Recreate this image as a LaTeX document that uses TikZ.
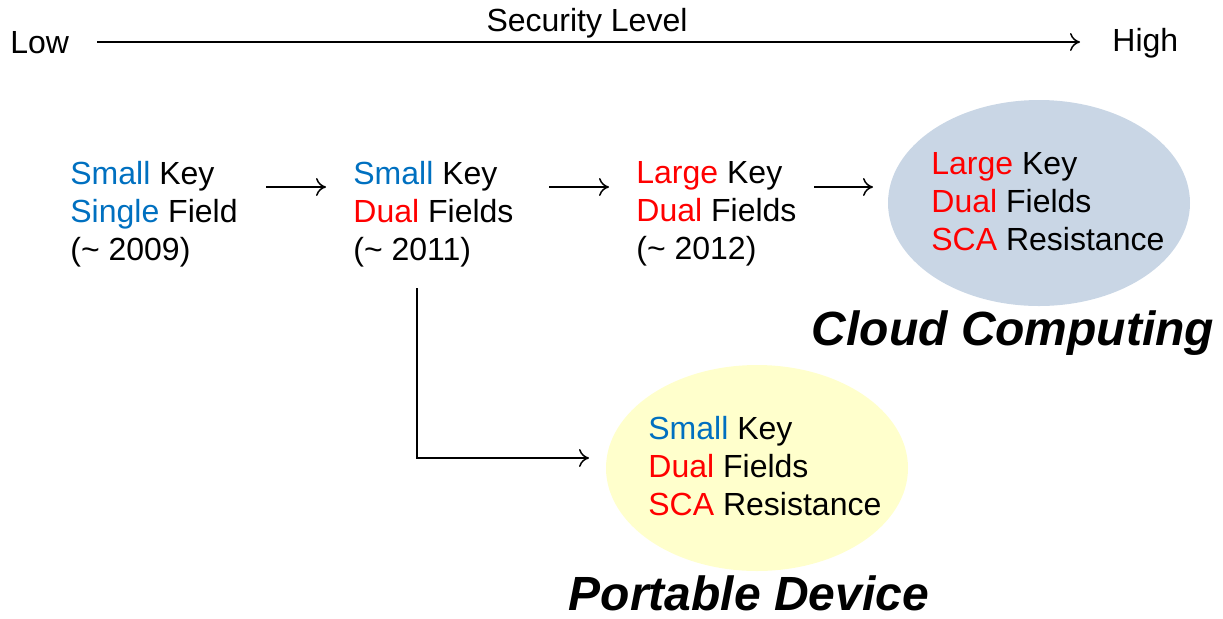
\documentclass[tikz,border=0pt]{standalone}
\usepackage{fontspec}
\setmainfont{Liberation Sans}
\usetikzlibrary{shapes.geometric,arrows.meta}
\definecolor{kblue}{HTML}{0070C0}
\definecolor{kred}{HTML}{FF0000}
\definecolor{cloudfill}{HTML}{C9D6E5}
\definecolor{devfill}{HTML}{FFFFCC}
\tikzset{
  txt/.style={font=\fontsize{16}{19}\selectfont, align=left, inner sep=0pt, anchor=west},
  arr/.style={-{To[length=5pt,width=9pt]}, line width=0.75pt},
  blob/.style={ellipse, draw=none, minimum width=151pt, minimum height=103pt},
  big/.style={font=\fontsize{24}{26}\selectfont\bfseries\itshape, inner sep=0pt},
  lbl/.style={font=\fontsize{16}{19}\selectfont, inner sep=0pt}
}
\newcommand{\bl}[1]{\textcolor{kblue}{#1}}
\newcommand{\rd}[1]{\textcolor{kred}{#1}}
\begin{document}
\begin{tikzpicture}[x=0.5pt,y=-0.5pt]
\useasboundingbox (0,0) rectangle (1223,618);
% axis
\node[lbl, anchor=west] (low) at (10,43) {Low};
\node[lbl, anchor=west] (high) at (1112,43) {High};
\node[lbl] (sec) at (587,23) {Security Level};
\coordinate (ax1) at (97,42);
\coordinate (ax2) at (1080,42);
\draw[arr] (ax1) -- (ax2);
% boxes
\node[txt] (b1) at (70,214) {\bl{Small} Key\\\bl{Single} Field\\(\~{} 2009)};
\node[txt] (b2) at (353,214) {\bl{Small} Key\\\rd{Dual} Fields\\(\~{} 2011)};
\node[txt] (b3) at (636,214) {\rd{Large} Key\\\rd{Dual} Fields\\(\~{} 2012)};
% ellipses
\node[blob, fill=cloudfill] (cloud) at (1039,203) {};
\node[txt] (ct) at (931,202) {\rd{Large} Key\\\rd{Dual} Fields\\\rd{SCA} Resistance};
\node[big] (cc) at (1013,333) {Cloud Computing};
\node[blob, fill=devfill] (dev) at (757,468) {};
\node[txt] (dt) at (648,466) {\bl{Small} Key\\\rd{Dual} Fields\\\rd{SCA} Resistance};
\node[big] (pd) at (749,593) {Portable Device};
% connectors
\coordinate (a1s) at (266,187); \coordinate (a1e) at (326,187);
\coordinate (a2s) at (549,187); \coordinate (a2e) at (609,187);
\coordinate (a3s) at (814,187); \coordinate (a3e) at (873,187);
\draw[arr] (a1s) -- (a1e);
\draw[arr] (a2s) -- (a2e);
\draw[arr] (a3s) -- (a3e);
\coordinate (e1) at (417,288); \coordinate (e2) at (589,458);
\draw[arr] (e1) |- (e2);
\end{tikzpicture}
\end{document}
